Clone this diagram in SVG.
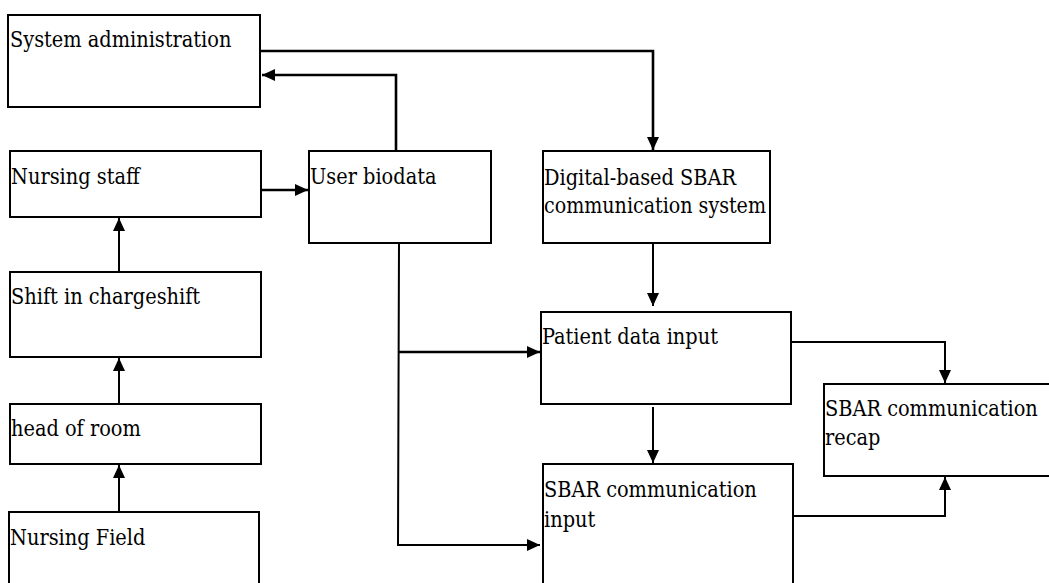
<svg xmlns="http://www.w3.org/2000/svg" width="1049" height="583" viewBox="0 0 1049 583">
<defs>
<style>
.box{fill:#fff;stroke:#000;stroke-width:2}
.t{font-family:"DejaVu Serif Condensed","DejaVu Serif",serif;font-size:21.5px;fill:#000}
.c{fill:none;stroke:#000;stroke-width:2}
.c3{fill:none;stroke:#000;stroke-width:2.6}
</style>
<marker id="ah" viewBox="0 0 13 12" refX="13" refY="6" markerWidth="13" markerHeight="12" markerUnits="userSpaceOnUse" orient="auto">
<path d="M0,0 L13,6 L0,12 Z" fill="#000"/>
</marker>
</defs>
<g id="connectors">
<path class="c3" d="M261,51 H653 V150" marker-end="url(#ah)"/>
<path class="c3" d="M396,151 V75 H262" marker-end="url(#ah)"/>
<path class="c3" d="M261,190 H308" marker-end="url(#ah)"/>
<path class="c" d="M119,272 V218" marker-end="url(#ah)"/>
<path class="c" d="M119,404 V358" marker-end="url(#ah)"/>
<path class="c" d="M119,512 V465" marker-end="url(#ah)"/>
<path class="c" d="M399,243 L398,545 H540" marker-end="url(#ah)"/>
<path class="c3" d="M398,352 H540" marker-end="url(#ah)"/>
<path class="c" d="M653,238 V306" marker-end="url(#ah)"/>
<path class="c" d="M653,407 V463" marker-end="url(#ah)"/>
<path class="c" d="M792,342 H945 V383" marker-end="url(#ah)"/>
<path class="c" d="M793,516 H945 V477" marker-end="url(#ah)"/>
</g>
<g id="sysadmin"><rect class="box" x="8" y="15" width="252" height="92"/><text class="t" x="10" y="47">System administration</text></g>
<g id="nursingstaff"><rect class="box" x="10" y="151" width="251" height="66"/><text class="t" x="11" y="184">Nursing staff</text></g>
<g id="userbiodata"><rect class="box" x="309" y="151" width="182" height="92"/><text class="t" x="310" y="184">User biodata</text></g>
<g id="digital"><rect class="box" x="543" y="151" width="227" height="92"/><text class="t" x="544" y="185">Digital-based SBAR</text><text class="t" x="544" y="213" textLength="222" lengthAdjust="spacingAndGlyphs">communication system</text></g>
<g id="shift"><rect class="box" x="10" y="272" width="251" height="85"/><text class="t" x="11" y="304">Shift in chargeshift</text></g>
<g id="head"><rect class="box" x="10" y="404" width="251" height="60"/><text class="t" x="11" y="436">head of room</text></g>
<g id="field"><rect class="box" x="9" y="512" width="250" height="75"/><text class="t" x="10" y="545">Nursing Field</text></g>
<g id="patient"><rect class="box" x="541" y="312" width="250" height="92"/><text class="t" x="542" y="344">Patient data input</text></g>
<g id="sbarinput"><rect class="box" x="543" y="464" width="250" height="123"/><text class="t" x="544" y="497">SBAR communication</text><text class="t" x="544" y="527">input</text></g>
<g id="recap"><rect class="box" x="824" y="384" width="230" height="92"/><text class="t" x="825" y="416">SBAR communication</text><text class="t" x="825" y="445">recap</text></g>
</svg>
